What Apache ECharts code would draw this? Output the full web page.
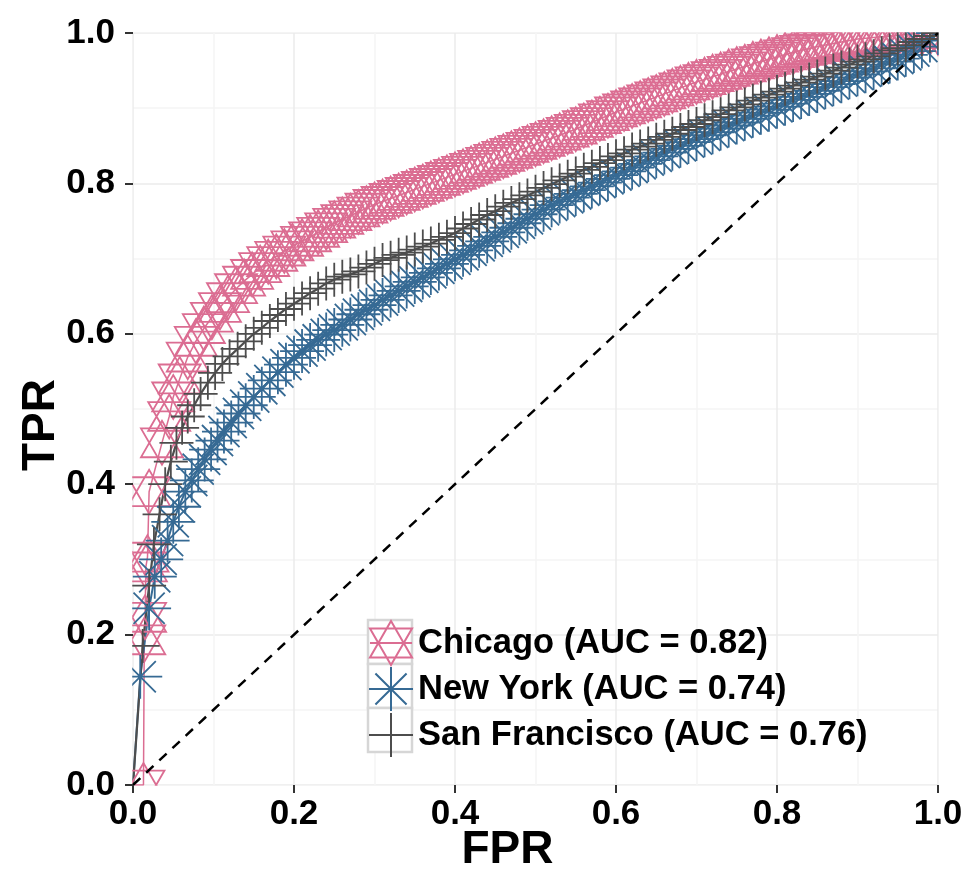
<!DOCTYPE html>
<html>
<head>
<meta charset="utf-8">
<script src="https://cdn.jsdelivr.net/npm/echarts@6/dist/echarts.min.js"></script>
<style>html,body{margin:0;padding:0;background:#fff;}#c{width:970px;height:893px;}</style>
</head>
<body>
<div id="c"></div>
<script>
const tickLabels = ['0.0','0.2','0.4','0.6','0.8','1.0'];
const seriesNames = ['Chicago (AUC = 0.82)','New York (AUC = 0.74)','San Francisco (AUC = 0.76)'];

const chiFpr = [0,0.013,0.014,0.015,0.016,0.018,0.02,0.036,0.045,0.05,0.058,0.068,0.078,0.088,0.098,0.108,0.118,0.128,0.138,0.148,0.158,0.168,0.178,0.188,0.198,
  0.21,0.22,0.23,0.24,0.25,0.26,0.27,0.28,0.29,0.3,0.31,0.32,0.33,0.34,0.35,0.36,0.37,0.38,0.39,0.4,0.41,0.42,0.43,0.44,0.45,0.46,0.47,0.48,0.49,0.5,0.51,0.52,0.53,0.54,0.55,0.56,0.57,0.58,0.59,0.6,0.61,0.62,0.63,0.64,0.65,0.66,0.67,0.68,0.69,0.7,0.71,0.72,0.73,0.74,0.75,0.76,0.77,0.78,0.79,0.8,0.81,0.82,0.83,0.84,0.85,0.86,0.87,0.88,0.89,0.9,0.91,0.92,0.93,0.94,0.95,0.96,0.97,0.98,0.99,1];
const chiTpr = [0,0,0.193,0.223,0.29,0.303,0.39,0.455,0.49,0.516,0.54,0.569,0.59,0.607,0.622,0.635,0.648,0.66,0.67,0.679,0.688,0.696,0.703,0.71,0.717,
  0.723,0.729,0.735,0.741,0.747,0.752,0.757,0.762,0.767,0.772,0.776,0.78,0.784,0.788,0.792,0.796,0.8,0.804,0.808,0.812,0.816,0.82,0.824,0.828,0.832,0.836,0.84,0.844,0.848,0.852,0.856,0.86,0.864,0.868,0.872,0.877,0.881,0.886,0.89,0.895,0.899,0.903,0.907,0.911,0.915,0.919,0.923,0.927,0.931,0.935,0.938,0.942,0.945,0.949,0.952,0.955,0.959,0.962,0.965,0.968,0.971,0.974,0.977,0.979,0.982,0.984,0.986,0.988,0.99,0.992,0.993,0.994,0.995,0.996,0.997,0.998,0.999,1,1,1];

const nyFpr = [0,0.009,0.02,0.027,0.035,0.043,0.05,0.057,0.065,0.073,0.081,0.089,0.097,0.105,0.113,0.122,0.131,0.14,0.15,0.16,0.17,0.18,0.19,0.2,0.21,0.22,0.23,0.24,0.25,0.26,0.27,0.28,0.29,0.3,0.31,0.32,0.33,0.34,0.35,0.36,0.37,0.38,0.39,0.4,0.41,0.42,0.43,0.44,0.45,0.46,0.47,0.48,0.49,0.5,0.51,0.52,0.53,0.54,0.55,0.56,0.57,0.58,0.59,0.6,0.61,0.62,0.63,0.64,0.65,0.66,0.67,0.68,0.69,0.7,0.71,0.72,0.73,0.74,0.75,0.76,0.77,0.78,0.79,0.8,0.81,0.82,0.83,0.84,0.85,0.86,0.87,0.88,0.89,0.9,0.91,0.92,0.93,0.94,0.95,0.96,0.97,0.98,0.99,1];
const nyTpr = [0,0.144,0.235,0.277,0.3,0.325,0.35,0.37,0.39,0.405,0.42,0.433,0.446,0.458,0.47,0.482,0.494,0.505,0.516,0.527,0.538,0.549,0.559,0.568,0.577,0.585,0.592,0.599,0.605,0.612,0.619,0.626,0.632,0.638,0.645,0.651,0.657,0.663,0.669,0.675,0.681,0.687,0.693,0.699,0.705,0.711,0.717,0.723,0.729,0.735,0.741,0.747,0.753,0.759,0.765,0.771,0.776,0.781,0.786,0.791,0.796,0.801,0.806,0.811,0.816,0.821,0.826,0.831,0.836,0.841,0.846,0.85,0.855,0.859,0.864,0.868,0.873,0.877,0.881,0.886,0.89,0.894,0.898,0.902,0.906,0.911,0.915,0.919,0.923,0.928,0.932,0.936,0.941,0.945,0.949,0.953,0.958,0.962,0.966,0.971,0.976,0.982,0.99,1];

const sfFpr = [0,0.012,0.02,0.026,0.033,0.04,0.047,0.054,0.061,0.068,0.076,0.084,0.093,0.102,0.111,0.12,0.13,0.14,0.15,0.16,0.17,0.18,0.19,0.2,0.21,0.22,0.23,0.24,0.25,0.26,0.27,0.28,0.29,0.3,0.31,0.32,0.33,0.34,0.35,0.36,0.37,0.38,0.39,0.4,0.41,0.42,0.43,0.44,0.45,0.46,0.47,0.48,0.49,0.5,0.51,0.52,0.53,0.54,0.55,0.56,0.57,0.58,0.59,0.6,0.61,0.62,0.63,0.64,0.65,0.66,0.67,0.68,0.69,0.7,0.71,0.72,0.73,0.74,0.75,0.76,0.77,0.78,0.79,0.8,0.81,0.82,0.83,0.84,0.85,0.86,0.87,0.88,0.89,0.9,0.91,0.92,0.93,0.94,0.95,0.96,0.97,0.98,0.99,1];
const sfTpr = [0,0.185,0.265,0.32,0.36,0.4,0.43,0.455,0.475,0.49,0.505,0.52,0.535,0.548,0.56,0.57,0.58,0.59,0.6,0.608,0.617,0.625,0.633,0.64,0.647,0.654,0.66,0.667,0.672,0.676,0.679,0.683,0.688,0.693,0.698,0.701,0.705,0.708,0.712,0.716,0.72,0.725,0.729,0.734,0.74,0.746,0.752,0.758,0.763,0.769,0.774,0.779,0.784,0.789,0.794,0.799,0.804,0.809,0.813,0.818,0.822,0.827,0.831,0.836,0.84,0.845,0.849,0.853,0.858,0.862,0.866,0.871,0.875,0.879,0.884,0.888,0.892,0.897,0.901,0.905,0.91,0.914,0.918,0.922,0.926,0.93,0.934,0.938,0.942,0.946,0.95,0.954,0.958,0.962,0.965,0.969,0.973,0.977,0.98,0.984,0.988,0.992,0.996,1];

const diagX = [0,1];
const diagY = [0,1];

const colors = ['#DB6D92','#366A94','#4D4D4D'];
const FONT = '"Liberation Sans", Arial, Helvetica, sans-serif';

const starPath = 'path://M50,0 L100,86.6 L0,86.6 Z M0,18 L100,18 L50,104.6 Z';
const starLegend = 'path://M50,0 L100,86.6 L0,86.6 Z M0,18 L100,18 L50,104.6 Z M0,52.3 L100,52.3';
const astPath = 'path://M0,50 L100,50 M50,0 L50,100 M14.6,14.6 L85.4,85.4 M14.6,85.4 L85.4,14.6';
const plusPath = 'path://M0,50 L100,50 M50,0 L50,100';

function pairs(xs, ys){ return xs.map((x,i)=> i===0 ? {value:[x,ys[i]], symbol:'none'} : [x, ys[i]]); }

function mkSeries(name, xs, ys, color, symbol, size, lw){
  return {
    type:'line', name, data: pairs(xs, ys),
    symbol, symbolSize: size, symbolKeepAspect:false, showAllSymbol:true,
    itemStyle:{color:'rgba(0,0,0,0)', borderColor:color, borderWidth:1.8},
    lineStyle:{color, width:lw},
    emphasis:{disabled:true}, silent:true, animation:false, clip:false,
    xAxisIndex:0, yAxisIndex:0
  };
}

const chart = echarts.init(document.getElementById('c'), null, {renderer:'canvas'});
const gridAxisCommon = {
  type:'value', min:0, max:1, interval:0.2,
  axisLine:{show:false}, axisTick:{show:false}, axisLabel:{show:false},
  splitLine:{show:true, lineStyle:{color:'#EBEBEB', width:1.5}},
  minorTick:{show:false, splitNumber:2},
  minorSplitLine:{show:true, lineStyle:{color:'#F5F5F5', width:1.5}},
  z:0
};
const labelAxisCommon = {
  type:'value', min:0, max:1, interval:0.2,
  axisLine:{show:false},
  axisTick:{show:true, length:8, lineStyle:{color:'#333', width:2}},
  splitLine:{show:false},
  nameMoveOverlap:false,
  z:20
};
const mask = (x,y,w,h)=>({type:'rect', shape:{x, y, width:w, height:h}, style:{fill:'#fff'}, z:15, silent:true});
const keyBox = (y)=>({type:'rect', shape:{x:368, y, width:44, height:44}, style:{fill:'#fff', stroke:'#D6D6D6', lineWidth:2.5}, z:25, silent:true});

chart.setOption({
  animation:false,
  backgroundColor:'#fff',
  grid:{left:133, right:32, top:33, bottom:108, containLabel:false},
  xAxis:[
    Object.assign({}, gridAxisCommon, {position:'bottom'}),
    Object.assign({}, labelAxisCommon, {position:'bottom',
      axisLabel:{show:true, margin:12, color:'#000', fontSize:35, fontWeight:'bold', fontFamily:FONT,
        formatter:(v)=>tickLabels[Math.round(v*5)]},
      name:'FPR', nameLocation:'middle', nameGap:42,
      nameTextStyle:{color:'#000', fontSize:46, fontWeight:'bold', fontFamily:FONT, padding:[0,56,0,0]}})
  ],
  yAxis:[
    Object.assign({}, gridAxisCommon, {position:'left'}),
    Object.assign({}, labelAxisCommon, {position:'left',
      axisLabel:{show:true, margin:18, color:'#000', fontSize:35, fontWeight:'bold', fontFamily:FONT,
        formatter:(v)=>tickLabels[Math.round(v*5)]},
      name:'TPR', nameLocation:'middle', nameGap:69,
      nameTextStyle:{color:'#000', fontSize:46, fontWeight:'bold', fontFamily:FONT, padding:[0,32,0,0]}})
  ],
  legend:{
    orient:'vertical', left:368, top:620, padding:0, itemGap:0,
    itemWidth:44, itemHeight:44, selectedMode:false, z:30,
    textStyle:{color:'#000', fontSize:34.5, fontWeight:'bold', fontFamily:FONT},
    data:[
      {name:seriesNames[0], icon:starLegend, itemStyle:{color:'rgba(0,0,0,0)', borderColor:colors[0], borderWidth:2}},
      {name:seriesNames[1], icon:astPath, itemStyle:{color:'rgba(0,0,0,0)', borderColor:colors[1], borderWidth:2}},
      {name:seriesNames[2], icon:plusPath, itemStyle:{color:'rgba(0,0,0,0)', borderColor:colors[2], borderWidth:2}}
    ]
  },
  graphic:[
    mask(133, 0, 837, 32.2),
    mask(938.8, 0, 31.2, 893),
    mask(0, 0, 132.2, 893),
    mask(0, 785.8, 970, 107.2),
    keyBox(620), keyBox(664), keyBox(708)
  ],
  series:[
    mkSeries(seriesNames[0], chiFpr, chiTpr, colors[0], starPath, [42,44], 1.5),
    mkSeries(seriesNames[1], nyFpr, nyTpr, colors[1], astPath, 44, 2),
    mkSeries(seriesNames[2], sfFpr, sfTpr, colors[2], plusPath, 34, 2.2),
    {type:'line', name:'diag', data: diagX.map((x,i)=>[x, diagY[i]]), symbol:'none',
     lineStyle:{color:'#000', width:2.5, type:[10,8]}, silent:true, animation:false, z:5}
  ]
});
</script>
</body>
</html>
